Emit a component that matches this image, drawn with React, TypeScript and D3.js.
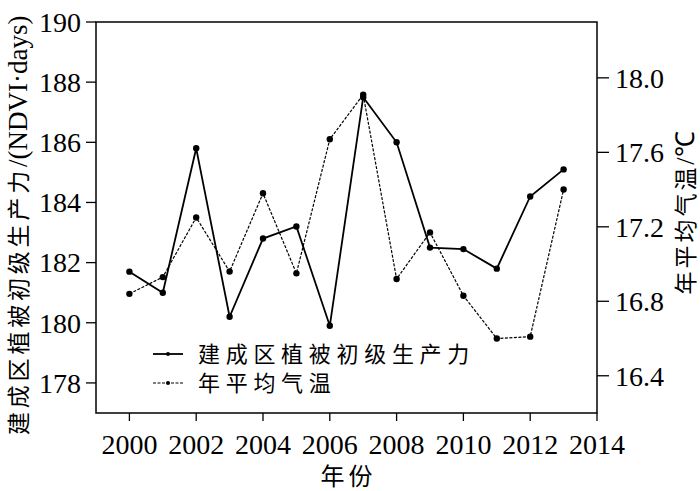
import React from 'react';
import * as d3 from 'd3';

const years = [2000, 2001, 2002, 2003, 2004, 2005, 2006, 2007, 2008, 2009, 2010, 2011, 2012, 2013];
const nppValues = [181.7, 181.0, 185.8, 180.2, 182.8, 183.2, 179.9, 187.5, 186.0, 182.5, 182.45, 181.8, 184.2, 185.1];
const tempValues = [16.84, 16.93, 17.25, 16.96, 17.38, 16.95, 17.67, 17.91, 16.92, 17.17, 16.83, 16.6, 16.61, 17.4];
const xTicks = [2000, 2002, 2004, 2006, 2008, 2010, 2012, 2014];
const leftTicks = [178, 180, 182, 184, 186, 188, 190];
const rightTicks = [16.4, 16.8, 17.2, 17.6, 18.0];
const seriesNames = ['建成区植被初级生产力', '年平均气温'];

const SERIF = '"Liberation Serif", "Times New Roman", serif';
const CJK = '"Noto Sans CJK SC", sans-serif';

export default function App() {
  const W = 700, H = 491;
  const L = 96, R = 597, T = 22, B = 413;
  const x = d3.scaleLinear().domain([1999, 2014]).range([L, R]);
  const yL = d3.scaleLinear().domain([177, 190]).range([B, T]);
  const yR = d3.scaleLinear().domain([16.2, 18.3]).range([B, T]);

  const nppLine = d3.line<number>().x((_, i) => x(years[i])).y(d => yL(d));
  const tempLine = d3.line<number>().x((_, i) => x(years[i])).y(d => yR(d));

  return (
    <svg width={W} height={H} style={{ position: 'absolute', left: 0, top: 0, background: '#fff' }}>
      <rect x={0} y={0} width={W} height={H} fill="#fff" />
      {/* frame */}
      <rect x={L} y={T} width={R - L} height={B - T} fill="none" stroke="#000" strokeWidth={1.5} />

      {/* left axis ticks */}
      {leftTicks.map(t => (
        <g key={'l' + t}>
          <line x1={L - 10} x2={L} y1={yL(t)} y2={yL(t)} stroke="#000" strokeWidth={1.3} />
          <text x={L - 15} y={yL(t)} dy="0.35em" textAnchor="end" fontFamily={SERIF} fontSize={28}>{t}</text>
        </g>
      ))}
      {/* right axis ticks */}
      {rightTicks.map(t => (
        <g key={'r' + t}>
          <line x1={R} x2={R + 12} y1={yR(t)} y2={yR(t)} stroke="#000" strokeWidth={1.3} />
          <text x={R + 18} y={yR(t)} dy="0.35em" textAnchor="start" fontFamily={SERIF} fontSize={28}>{t.toFixed(1)}</text>
        </g>
      ))}
      {/* bottom axis ticks */}
      {xTicks.map(t => (
        <g key={'x' + t}>
          <line x1={x(t)} x2={x(t)} y1={B} y2={B + 8} stroke="#000" strokeWidth={1.3} />
          <text x={x(t)} y={B + 31} dy="0.35em" textAnchor="middle" fontFamily={SERIF} fontSize={28}>{t}</text>
        </g>
      ))}

      {/* axis titles */}
      <text x={(L + R) / 2 + 2} y={477} dy="0.35em" textAnchor="middle" fontFamily={CJK} fontSize={24} letterSpacing={4}>年份</text>
      <text transform={`translate(27,435) rotate(-90)`} textAnchor="start" fontSize={23}>
        <tspan fontFamily={CJK} letterSpacing={3.8}>建成区植被初级生产力</tspan>
        <tspan fontFamily={SERIF} fontSize={27}>/(NDVI·days)</tspan>
      </text>
      <text transform={`translate(694,213) rotate(-90)`} textAnchor="middle" fontSize={23}>
        <tspan fontFamily={CJK} letterSpacing={3}>年平均气温</tspan>
        <tspan fontFamily={SERIF} fontSize={26}>/℃</tspan>
      </text>

      {/* series */}
      <path d={tempLine(tempValues) || ''} fill="none" stroke="#000" strokeWidth={1.2} strokeDasharray="3,1.5" />
      <path d={nppLine(nppValues) || ''} fill="none" stroke="#000" strokeWidth={1.8} />
      {nppValues.map((v, i) => (
        <circle key={'n' + i} cx={x(years[i])} cy={yL(v)} r={3.2} fill="#000" />
      ))}
      {tempValues.map((v, i) => (
        <circle key={'t' + i} cx={x(years[i])} cy={yR(v)} r={3.2} fill="#000" />
      ))}

      {/* legend */}
      <g>
        <line x1={153} x2={183} y1={354} y2={354} stroke="#000" strokeWidth={1.8} />
        <circle cx={168} cy={354} r={2} fill="#000" />
        <text x={198} y={354} dy="0.36em" fontFamily={CJK} fontSize={22} letterSpacing={5.7}>{seriesNames[0]}</text>
        <line x1={153} x2={183} y1={383} y2={383} stroke="#000" strokeWidth={1.2} strokeDasharray="3,1.5" />
        <circle cx={168} cy={383} r={2} fill="#000" />
        <text x={198} y={383} dy="0.36em" fontFamily={CJK} fontSize={22} letterSpacing={5.7}>{seriesNames[1]}</text>
      </g>
    </svg>
  );
}
